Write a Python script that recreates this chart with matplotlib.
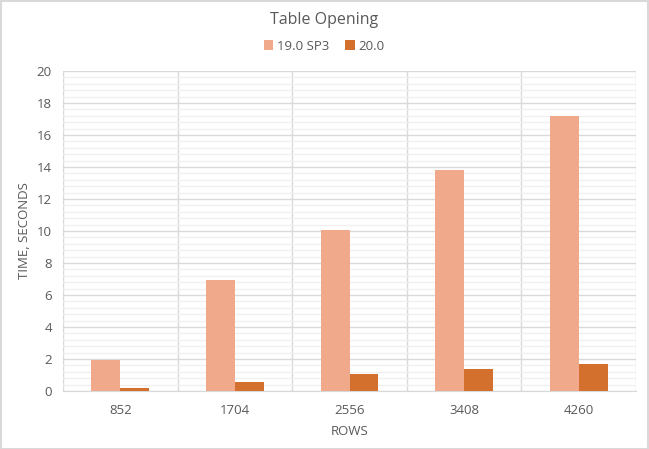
import numpy as np
import matplotlib.pyplot as plt
from matplotlib.ticker import MultipleLocator

rows = ["852", "1704", "2556", "3408", "4260"]
sp3_times = [1.93, 6.95, 10.08, 13.83, 17.2]
v20_times = [0.2, 0.59, 1.08, 1.38, 1.66]
series_names = ["19.0 SP3", "20.0"]

plt.rcParams['font.family'] = ['Open Sans', 'DejaVu Sans']
text_color = "#595959"

fig = plt.figure(figsize=(6.49, 4.49), dpi=100)
ax = fig.add_axes([63 / 649, 1 - 391 / 449, 573 / 649, 320 / 449])

x = np.arange(len(rows))
w = 0.253
ax.bar(x - w / 2, sp3_times, w, color="#F0A98A", label=series_names[0], zorder=3)
ax.bar(x + w / 2, v20_times, w, color="#D4702E", label=series_names[1], zorder=3)

ax.set_xlim(-0.5, len(rows) - 0.5)
ax.set_ylim(0, 20)
ax.yaxis.set_major_locator(MultipleLocator(2))
ax.yaxis.set_minor_locator(MultipleLocator(0.4))
ax.grid(which="major", axis="y", color="#d9d9d9", linewidth=1, zorder=0)
ax.grid(which="minor", axis="y", color="#f0f0f0", linewidth=1, zorder=0)
for b in np.arange(-0.5, len(rows), 1.0):
    ax.axvline(b, color="#d9d9d9", linewidth=1, zorder=1)

ax.set_xticks(x)
ax.set_xticklabels(rows)
for s in ["top", "right", "left"]:
    ax.spines[s].set_visible(False)
ax.spines["bottom"].set_color("#d9d9d9")
ax.tick_params(which="both", length=0, colors=text_color, labelsize=9.5)
ax.tick_params(axis="x", pad=9)
ax.tick_params(axis="y", pad=8)

ax.set_xlabel("ROWS", color=text_color, fontsize=9.5, labelpad=6)
ax.set_ylabel("TIME, SECONDS", color=text_color, fontsize=9.5, labelpad=4)

fig.text(0.5, 1 - 20 / 449, "Table Opening", ha="center", va="center",
         color=text_color, fontsize=11.5)
fig.legend(loc="center", bbox_to_anchor=(0.5, 1 - 46 / 449), ncol=2, frameon=False,
           fontsize=9.5, handlelength=0.7, handleheight=0.7, columnspacing=1.2,
           handletextpad=0.3, labelcolor=text_color)

fig.patches.append(plt.Rectangle((0.001, 0.001), 0.997, 0.997, transform=fig.transFigure,
                                 fill=False, edgecolor="#d9d9d9", linewidth=1.5))

fig.savefig("out.png", dpi=100)
